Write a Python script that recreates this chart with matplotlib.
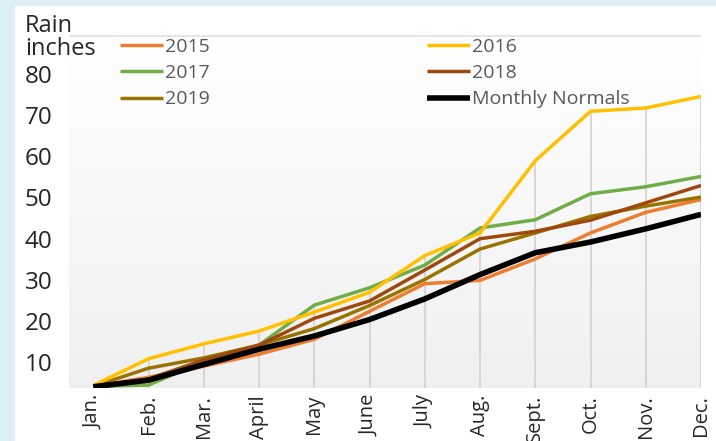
import matplotlib.pyplot as plt
import numpy as np

months = ['Jan.', 'Feb.', 'Mar.', 'April', 'May', 'June', 'July', 'Aug.',
          'Sept.', 'Oct.', 'Nov.', 'Dec.']
y_ticks = [10, 20, 30, 40, 50, 60, 70, 80]

rain_2015 = [4.2, 6.4, 9.1, 12.0, 15.6, 22.4, 29.1, 29.9, 35.1, 41.4, 46.4, 49.5]
rain_2016 = [4.4, 10.9, 14.5, 17.6, 22.2, 27.0, 35.9, 41.4, 58.9, 70.9, 71.7, 74.5]
rain_2017 = [4.2, 4.5, 10.3, 14.2, 23.9, 28.1, 33.6, 42.6, 44.6, 50.9, 52.6, 55.1]
rain_2018 = [4.2, 6.0, 10.6, 14.2, 20.7, 24.9, 32.4, 40.0, 41.8, 44.5, 48.7, 52.9]
rain_2019 = [4.2, 8.6, 11.1, 14.2, 18.2, 23.8, 30.1, 37.5, 41.4, 45.4, 47.9, 50.1]
normals = [4.1, 5.7, 9.5, 13.2, 16.4, 20.4, 25.4, 31.3, 36.6, 39.2, 42.4, 45.9]

series = [
    ('2015', rain_2015, '#ED7D31', 2.5),
    ('2017', rain_2017, '#70AD47', 2.5),
    ('2019', rain_2019, '#997300', 2.5),
    ('2016', rain_2016, '#FFC000', 2.5),
    ('2018', rain_2018, '#9E480E', 2.5),
    ('Monthly Normals', normals, '#000000', 4.0),
]

plt.rcParams['font.family'] = ['Open Sans', 'DejaVu Sans']

fig = plt.figure(figsize=(7.16, 4.41), dpi=100)
fig.patch.set_facecolor('#dbeff5')
# white panel behind everything
fig.add_artist(plt.Rectangle((15 / 716, 0), 1, 1 - 6 / 441,
                             transform=fig.transFigure, facecolor='white',
                             edgecolor='none', zorder=-5))

ax = fig.add_axes([69 / 716, 1 - 388 / 441, (701 - 69) / 716, (388 - 35) / 441])
ax.set_facecolor('none')

x = np.arange(len(months))
ymin, ymax = 3.8, 89.4
ax.set_xlim(-0.44, 11)
ax.set_ylim(ymin, ymax)

# gradient background
grad = np.linspace(1.0, 0.94, 100).reshape(-1, 1)
ax.imshow(np.dstack([grad, grad, grad]), extent=[-0.44, 11, ymin, ymax],
          aspect='auto', zorder=0, origin='upper')
ax.axhline(ymax - 0.15, color='#e0e0e0', lw=1.2, zorder=1)

# drop lines
tops = np.max([s[1] for s in series], axis=0)
ax.vlines(x[1:], ymin, tops[1:], color='#d4d4d4', lw=1.3, zorder=1)

handles = {}
for name, vals, color, lw in series:
    h, = ax.plot(x, vals, color=color, lw=lw,
                 zorder=4 if name == 'Monthly Normals' else 3,
                 solid_capstyle='butt')
    handles[name] = h

order = ['2015', '2017', '2019', '2016', '2018', 'Monthly Normals']
leg = fig.legend([handles[n] for n in order], order, ncol=2,
                 loc='upper left', bbox_to_anchor=(120 / 716, 1 - 38 / 441),
                 frameon=False, fontsize=14, handlelength=2.2,
                 handletextpad=0.1, columnspacing=11.2, labelspacing=0.42,
                 borderaxespad=0, borderpad=0)
for t in leg.get_texts():
    t.set_color('#595959')

for s in ax.spines.values():
    s.set_visible(False)

ax.set_xticks(x)
ax.set_xticklabels(months, rotation=90, fontsize=14.5, color='#262626')
ax.set_yticks(y_ticks)
ax.set_yticklabels([str(v) for v in y_ticks], fontsize=17.5, color='#262626',
                   ha='left')
ax.tick_params(axis='both', length=0)
ax.tick_params(axis='x', pad=5)
ax.tick_params(axis='y', pad=31.7)

fig.text(25 / 716, 1 - 14 / 441, 'Rain\ninches', fontsize=17, color='#262626',
         va='top', ha='left', linespacing=0.92)

fig.savefig('out.png', dpi=100)
